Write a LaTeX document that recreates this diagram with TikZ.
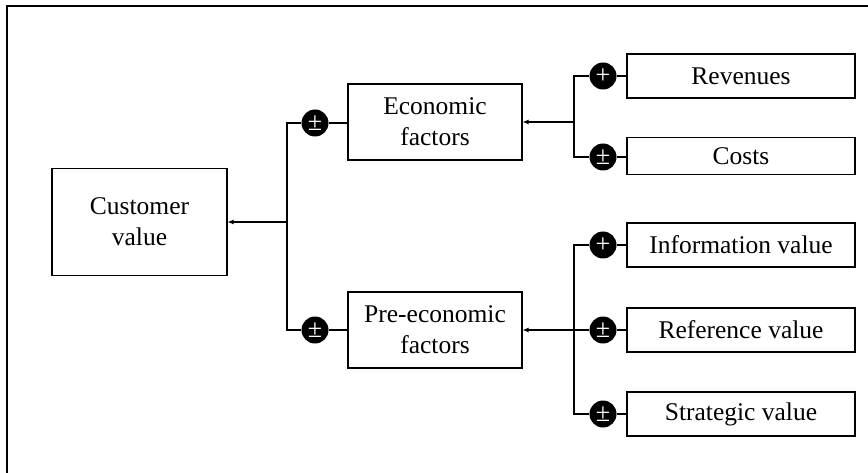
\documentclass[tikz,border=0pt]{standalone}
\usepackage{fontspec}
\setmainfont{Liberation Serif}
\usetikzlibrary{arrows.meta}
\begin{document}
\begin{tikzpicture}[x=1pt,y=-1pt,
  line/.style={line width=1.1pt},
  arr/.style={line width=1.1pt,-{Latex[length=6pt,width=5pt]}},
  box/.style={draw,line width=1.1pt,align=center,inner sep=0pt,
    font=\fontsize{25.5}{31}\selectfont},
  sign/.style={circle,fill=black,minimum size=27pt,inner sep=0pt,
    text=white,font=\fontsize{26}{26}\selectfont},
]
\useasboundingbox (0,0) rectangle (868,473);
% outer frame (only the top and left edges fall inside the page)
\draw[line] (7,473) -- (7,6) -- (868,6);

% main boxes
\node[box,minimum width=175pt,minimum height=107pt] (cust) at (139.5,222) {Customer\\value};
\node[box,minimum width=174pt,minimum height=76pt] (econ) at (435,122) {Economic\\factors};
\node[box,minimum width=174pt,minimum height=76pt] (pre) at (435,330) {Pre-economic\\factors};

% leaf boxes
\node[box,minimum width=228pt,minimum height=44pt] (rev) at (741,76) {Revenues};
\node[box,minimum width=228pt,minimum height=37pt] (cost) at (741,156) {Costs};
\node[box,minimum width=228pt,minimum height=44pt] (info) at (741,245) {Information value};
\node[box,minimum width=228pt,minimum height=44pt] (ref) at (741,330) {Reference value};
\node[box,minimum width=228pt,minimum height=44pt] (strat) at (741,414) {Strategic value};

% influence signs
\node[sign] (secon) at (315,123) {±};
\node[sign] (spre) at (315,330) {±};
\node[sign] (srev) at (603,76) {+};
\node[sign] (scost) at (603,157) {±};
\node[sign] (sinfo) at (603,245) {+};
\node[sign] (sref) at (603,330) {±};
\node[sign] (sstrat) at (603,414) {±};

% sign to box links
\draw[line] (secon) -- (secon -| econ.west);
\draw[line] (spre) -- (spre -| pre.west);
\draw[line] (srev) -- (srev -| rev.west);
\draw[line] (scost) -- (scost -| cost.west);
\draw[line] (sinfo) -- (sinfo -| info.west);
\draw[line] (sref) -- (sref -| ref.west);
\draw[line] (sstrat) -- (sstrat -| strat.west);

% junctions
\coordinate (jc) at (287,222);
\coordinate (je) at (574,122);
\coordinate (jp) at (574,330);

\draw[line] (secon.west) -| (jc) |- (spre.west);
\draw[arr] (jc) -- (cust.east |- jc);

\draw[line] (srev.west) -| (je) |- (scost.west);
\draw[arr] (je) -- (econ.east |- je);

\draw[line] (sinfo.west) -| (jp) |- (sstrat.west);
\draw[line] (jp) -- (sref.west);
\draw[arr] (jp) -- (pre.east |- jp);
\end{tikzpicture}
\end{document}
